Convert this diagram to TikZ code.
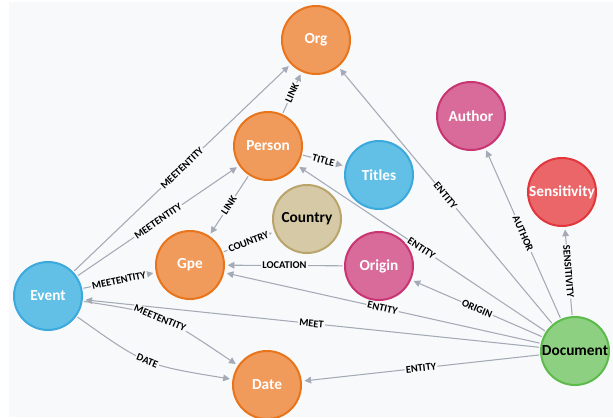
\documentclass[tikz,border=0pt]{standalone}
\usepackage{fontspec}
\setmainfont{Carlito}
\usetikzlibrary{arrows.meta}
\definecolor{bgc}{HTML}{F8F9FB}
\definecolor{edgec}{HTML}{A5ABB6}
\definecolor{orf}{HTML}{F09B5C}\definecolor{ors}{HTML}{E8741C}
\definecolor{blf}{HTML}{62C0E6}\definecolor{bls}{HTML}{3BA9DC}
\definecolor{pkf}{HTML}{D86B99}\definecolor{pks}{HTML}{C83572}
\definecolor{rdf}{HTML}{EB6669}\definecolor{rds}{HTML}{E0363C}
\definecolor{grf}{HTML}{8ED081}\definecolor{grs}{HTML}{5DBB4C}
\definecolor{tnf}{HTML}{D5C9A6}\definecolor{tns}{HTML}{BBA46C}
\tikzset{
  ent/.style={circle, minimum size=51pt, inner sep=0pt, line width=1.5pt,
    font=\fontsize{11.5}{13}\selectfont\bfseries, text=white},
  orn/.style={ent, fill=orf, draw=ors},
  bln/.style={ent, fill=blf, draw=bls},
  pkn/.style={ent, fill=pkf, draw=pks},
  rdn/.style={ent, fill=rdf, draw=rds},
  grn/.style={ent, fill=grf, draw=grs, text=black},
  tnn/.style={ent, fill=tnf, draw=tns, text=black},
  rel/.style={draw=edgec, line width=0.8pt, -{Triangle[length=5pt,width=5pt]},
    shorten >=2pt, shorten <=1pt},
  lab/.style={sloped, fill=bgc, inner sep=1pt, text=black,
    font=\fontsize{7.8}{8.5}\selectfont\bfseries}
}
\begin{document}
\begin{tikzpicture}[x=0.75pt,y=-0.75pt]
\useasboundingbox (0,0) rectangle (613,417);
\fill[white] (0,0) rectangle (613,417);
\fill[bgc] (9,2) rectangle (613,417);

\node[orn] (org) at (316,40) {Org};
\node[orn] (person) at (268,146) {Person};
\node[bln] (titles) at (379,175) {Titles};
\node[pkn] (author) at (471,116) {Author};
\node[tnn] (country) at (307,219) {Country};
\node[orn] (gpe) at (190,265) {Gpe};
\node[bln] (event) at (48,296) {Event};
\node[orn] (date) at (267,385) {Date};
\node[pkn] (origin) at (379,266) {Origin};
\node[rdn] (sens) at (562,192) {Sensitivity};
\node[grn] (doc) at (575,351) {Document};

\coordinate (c1) at (160,313);
\coordinate (c2) at (145,365);

\path[rel] (person) -- node[lab] {LINK} (org);
\path[rel] (event) -- node[lab] {MEETENTITY} (org);
\path[rel] (event) -- node[lab] {MEETENTITY} (person);
\path[rel] (person) -- node[lab] {LINK} (gpe);
\path[rel] (person) -- node[lab] {TITLE} (titles);
\path[rel] (gpe) -- node[lab] {COUNTRY} (country);
\path[rel] (origin) -- node[lab] {LOCATION} (gpe);
\path[rel] (event) -- node[lab] {MEETENTITY} (gpe);
\path[rel] (doc) -- node[lab] {MEET} (event);
\path[rel] (event) .. controls (c1) .. node[lab] {MEETENTITY} (date);
\path[rel] (event) .. controls (c2) .. node[lab] {DATE} (date);
\path[rel] (doc) -- node[lab] {ENTITY} (date);
\path[rel] (doc) -- node[lab] {ENTITY} (gpe);
\path[rel] (doc) -- node[lab] {ORIGIN} (origin);
\path[rel] (doc) -- node[lab] {ENTITY} (person);
\path[rel] (doc) -- node[lab] {ENTITY} (org);
\path[rel] (doc) -- node[lab] {AUTHOR} (author);
\path[rel] (doc) -- node[lab] {SENSITIVITY} (sens);
\end{tikzpicture}
\end{document}
